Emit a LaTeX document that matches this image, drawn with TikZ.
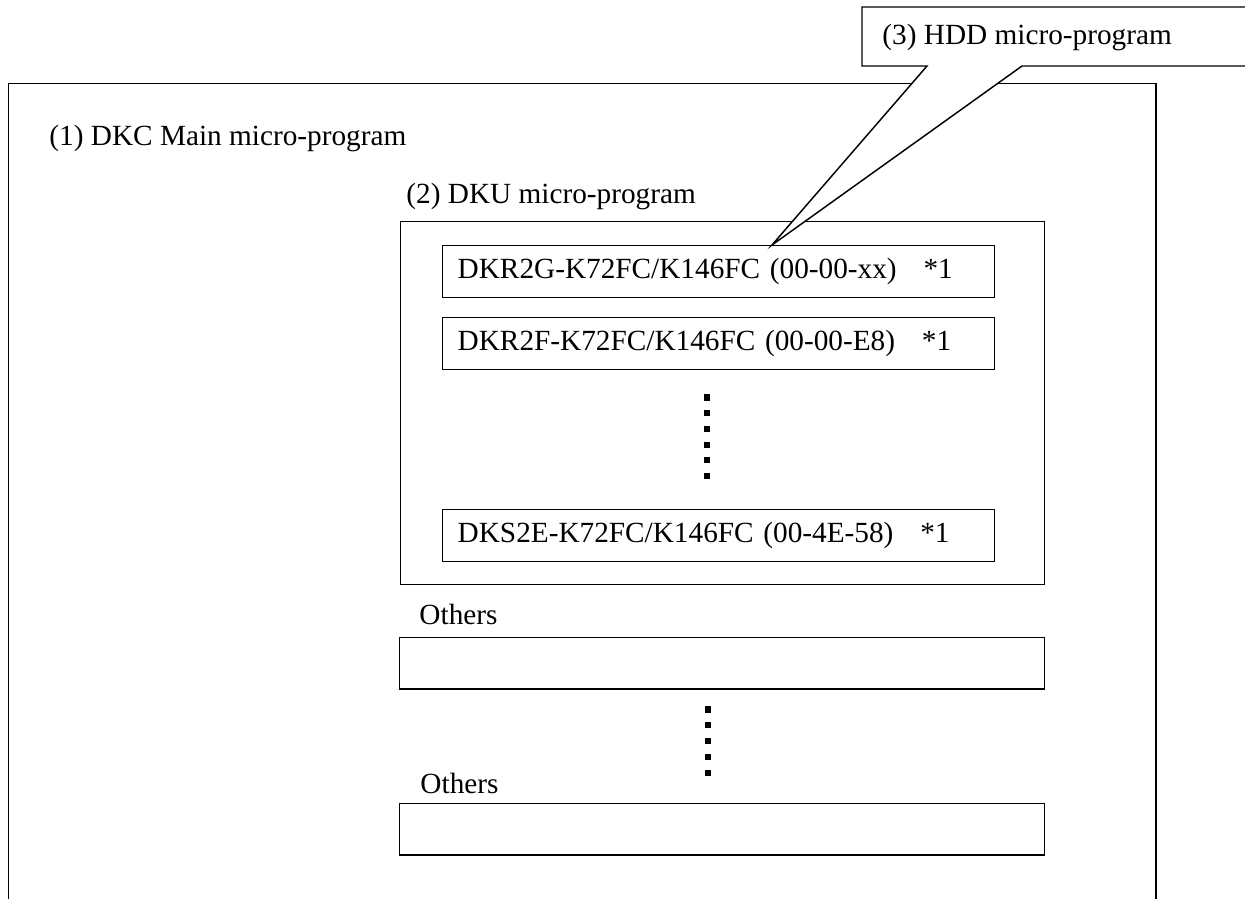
\documentclass[tikz,border=0pt]{standalone}
\usepackage{fontspec}
\setmainfont{Liberation Serif}
\usetikzlibrary{positioning}

\begin{document}
\begin{tikzpicture}[
    x=0.41pt, y=-0.41pt,
    font=\fontsize{12}{14}\selectfont,
    frame/.style = {draw, line width=0.6pt, inner sep=0pt, anchor=north west},
    progbox/.style = {frame, minimum width=226.3pt, minimum height=21.3pt,
                      inner xsep=6pt, text width=214pt, align=left},
    label/.style = {anchor=base west, inner sep=0pt},
    dot/.style = {fill, inner sep=0pt, minimum size=2.5pt},
    callout/.style = {draw, fill=white, line width=0.6pt, line join=miter}
]
\useasboundingbox (0,0) rectangle (1245,898);
\clip (0,0) rectangle (1245,898);

% Outer frame for the main micro-program, open at the bottom
\node[frame, minimum width=470.3pt, minimum height=343.2pt] (dkc) at (8,83) {};
\node[label] (dkclabel) at (49,145) {(1) DKC Main micro-program};

% DKU block with the HDD entries
\node[label] (dkulabel) at (406,203) {(2) DKU micro-program};
\node[frame, minimum width=264pt, minimum height=148.8pt] (dku) at (400,221) {};

\node[progbox] (dkr2g) at (442,245) {DKR2G-K72FC/K146FC (00-00-xx)\hspace{11pt}*1};
\node[progbox] (dkr2f) at (442,317) {DKR2F-K72FC/K146FC (00-00-E8)\hspace{11pt}*1};
\node[progbox] (dks2e) at (442,509) {DKS2E-K72FC/K146FC (00-4E-58)\hspace{11pt}*1};

% Vertical ellipsis between the HDD entries
\foreach \k in {0,...,5}
    \node[dot] (hdddot\k) at (707,397.5+15.7*\k) {};

% Other micro-programs
\node[label] (otherlabel1) at (419,624) {Others};
\node[frame, minimum width=264.4pt, minimum height=21pt] (others1) at (399,637) {};

\foreach \k in {0,...,4}
    \node[dot] (otherdot\k) at (708,709.5+15.8*\k) {};

\node[label] (otherlabel2) at (420,793) {Others};
\node[frame, minimum width=264.4pt, minimum height=21pt] (others2) at (399,803) {};

% Callout pointing to the first HDD entry
\coordinate (tip) at (772,245);
\draw[callout] (862,7) -- (1270,7) -- (1270,66) -- (1022,66) -- (tip)
    -- (927,66) -- (862,66) -- cycle;
\node[label] (hddlabel) at (882,44) {(3) HDD micro-program};

\end{tikzpicture}
\end{document}
